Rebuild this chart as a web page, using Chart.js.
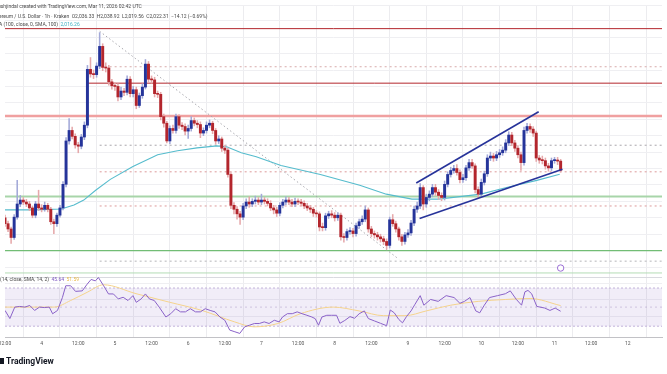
<!DOCTYPE html>
<html><head><meta charset="utf-8">
<script src="https://cdn.jsdelivr.net/npm/chart.js@4.4.1/dist/chart.umd.min.js"></script>
<style>
html,body{margin:0;padding:0;background:#fff;}
#wrap{position:relative;width:667px;height:374px;overflow:hidden;font-family:Roboto,"Liberation Sans",sans-serif;}
canvas{position:absolute;left:0;top:0;}
.t{position:absolute;white-space:nowrap;font-size:5px;color:#4a4a4a;line-height:6px;}
.logo{position:absolute;left:6px;top:356px;font-size:8.5px;font-weight:bold;color:#131722;white-space:nowrap;line-height:10px;}
.ico{position:absolute;left:0px;top:358px;width:4px;height:6px;background:#131722;}
</style></head><body>
<div id="wrap"><canvas id="c" width="667" height="374"></canvas>
<div class="t" style="left:-2px;top:3px">ushjindal created with TradingView.com, Mar 11, 2026 02:42 UTC</div>
<div class="t" style="left:-1px;top:13px">ereum / U.S. Dollar · 1h · Kraken&nbsp; O2,036.33&nbsp; H2,038.92&nbsp; L2,019.56&nbsp; C2,022.31&nbsp; −14.12 (−0.69%)</div>
<div class="t" style="left:-1px;top:21px">A (100, close, 0, SMA, 100)&nbsp; <span style="color:#3fb0c4">2,016.26</span></div>
<div class="t" style="left:0px;top:276px">(14, close, SMA, 14, 2)&nbsp; <span style="color:#7e57c2">45.64</span>&nbsp; <span style="color:#e8b94a">51.59</span></div>
<div class="ico"></div><div class="logo">TradingView</div>
</div>
<script>
// ---- data: hourly ETH/USD candles, hour 0 = Mar 3 12:00 UTC ----
const firstOpen = 1950;
const closes = [
1941,1933,1920,1951,1971,1977,1974,1971,1965,1954,
1971,1965,1963,1969,1963,1944,1941,1954,1965,2001,
2067,2083,2074,2061,2059,2073,2091,2176,2169,2168,
2181,2211,2179,2178,2157,2151,2150,2134,2143,2141,
2161,2139,2145,2121,2136,2149,2184,2161,2160,2139,
2138,2104,2094,2067,2086,2083,2104,2091,2089,2082,
2086,2098,2094,2092,2079,2083,2091,2094,2083,2067,
2070,2056,2053,2016,1969,1963,1956,1951,1968,1974,
1971,1975,1977,1974,1977,1975,1972,1965,1962,1957,
1969,1974,1977,1974,1971,1975,1974,1972,1968,1965,
1963,1957,1956,1936,1935,1953,1956,1954,1950,1954,
1921,1920,1929,1930,1926,1938,1944,1948,1962,1933,
1926,1924,1921,1918,1914,1908,1947,1941,1933,1921,
1914,1924,1927,1942,1963,1968,1996,1971,1981,1986,
1996,1989,1984,1981,2001,2016,2022,2025,2019,2008,
2011,2026,2034,2029,1993,1986,2004,2017,2041,2044,
2041,2046,2049,2053,2064,2076,2064,2056,2046,2034,
2083,2089,2085,2079,2041,2038,2037,2029,2026,2037,
2038,2036.33,2022.31];
const highs = [
1954,1945,1936,1955,2007,1984,1981,1978,1975,1968,
1975,1992,1970,1974,1972,1966,1948,1957,1969,2005,
2072,2101,2088,2078,2065,2077,2096,2182,2194,2175,
2186,2232,2215,2186,2182,2161,2156,2154,2149,2147,
2166,2165,2150,2149,2140,2154,2191,2188,2166,2164,
2143,2141,2108,2097,2090,2091,2108,2107,2095,2093,
2091,2104,2102,2098,2096,2087,2096,2099,2097,2086,
2075,2073,2060,2056,2019,1973,1967,1960,1972,1979,
1982,1979,1983,1981,1986,1981,1979,1976,1969,1966,
1973,1978,1982,1981,1978,1980,1979,1978,1976,1972,
1969,1966,1961,1959,1942,1957,1960,1961,1958,1958,
1957,1926,1933,1935,1934,1942,1948,1953,1968,1965,
1937,1930,1928,1925,1922,1918,1951,1955,1945,1936,
1925,1928,1932,1946,1968,1974,2002,1999,1986,1991,
2001,2001,1993,1988,2006,2020,2027,2030,2031,2023,
2016,2030,2039,2039,2032,1997,2009,2021,2046,2050,
2048,2051,2054,2058,2069,2081,2080,2068,2060,2050,
2088,2094,2093,2089,2082,2045,2044,2041,2033,2041,
2042,2042,2038.92];
const lows = [
1937,1929,1911,1917,1948,1967,1970,1967,1961,1950,
1950,1961,1959,1960,1959,1940,1926,1937,1951,1962,
1997,2062,2070,2056,2049,2055,2069,2087,2164,2162,
2164,2177,2174,2172,2152,2146,2144,2128,2130,2136,
2137,2134,2134,2116,2118,2132,2146,2156,2155,2134,
2133,2099,2088,2064,2063,2079,2079,2086,2084,2076,
2071,2082,2090,2087,2072,2075,2079,2087,2078,2062,
2063,2051,2048,2012,1964,1956,1948,1940,1947,1964,
1966,1967,1971,1970,1970,1971,1968,1961,1956,1952,
1953,1965,1970,1970,1967,1967,1970,1968,1964,1961,
1958,1952,1951,1930,1930,1931,1949,1950,1945,1946,
1916,1913,1916,1925,1921,1922,1934,1940,1944,1928,
1921,1919,1916,1913,1909,1902,1904,1937,1928,1916,
1908,1910,1920,1923,1938,1958,1964,1962,1966,1976,
1982,1984,1978,1976,1977,1997,2012,2018,2015,2003,
2004,2007,2022,2025,1988,1980,1982,2000,2013,2037,
2036,2037,2042,2045,2049,2060,2060,2051,2041,2022,
2030,2079,2080,2074,2036,2033,2032,2024,2021,2022,
2033,2031,2019.56];

// 100-period moving average
const emaHours  = [0, 9.7, 18.4, 22.6, 25.8, 29.7, 34.5, 41.9, 50, 56.5, 62.9, 69.4, 72.6, 77.4, 82.3, 90.4, 103.3, 116.2, 124.9, 133.3, 142, 155.9, 164.6, 174.2, 181.7];
const emaValues = [1962, 1962, 1963.5, 1969.5, 1977, 1992, 2008.5, 2028, 2046, 2052, 2056.5, 2059.5, 2058, 2049, 2043, 2029.5, 2016, 1999.5, 1986, 1978.5, 1978.5, 1986, 1996.5, 2007, 2016.26];

// RSI(14) and its SMA(14)
const rsiHours = [0,1.6,3.2,4.8,6.5,8.1,9.7,11.3,12.9,14.5,15.6,17.2,18.8,19.9,21.5,23.1,25.3,26.9,28.2,29.6,30.6,32.3,33.9,35.5,37.1,38.7,40.3,41.9,43,44.6,46,47.3,48.9,50.5,52.7,54.3,55.9,57.5,59.1,60.7,62.4,64,65.6,67.2,68.8,70.4,72,73.6,75.3,76.9,78.5,80.1,81.7,83.3,84.9,86.5,88.2,89.8,90.9,92.5,94.1,95.7,97.3,98.9,100.5,101.6,102.7,103.8,105.4,107,108.6,109.7,111.3,113,114.5,116,117.7,119,121,123,125,126.2,127.5,129,130.2,131.5,133,134.3,136,137.2,139.4,141.9,144.5,147.1,149,150.5,152.3,154.2,155.5,157,158.7,161.3,163.9,165.5,167.5,169.2,170.3,171.3,172.5,174.2,176.8,178.5,180.2,182];
const rsiValues = [46.5,38,50,50.7,50,51.7,46.5,50,49.5,50,43,46.5,60,72.4,72.4,66.5,67,74,79,77.5,81,72.4,63.8,63.8,58.6,60.3,56.9,62,55,58.6,63.8,58.6,56.9,50,39.6,43.1,48.3,45,45,48.3,45,45,48.3,46.5,45,39.6,36.2,25.9,24.1,22.4,29.3,31,32.8,32.8,34.5,32.8,36.2,34.5,39.6,43.1,43.1,45,43.1,41.4,39.6,37.9,31,39.6,41.4,41.4,41.4,33,36,40,38.3,43,46,38,35.5,33,30.5,47,44,37,33.5,40,46,53,62,52,58,56,62,60,54,56,60,46,44,52,60,62,64,67,58,52,66,67.5,64,50.7,49,46.5,49,45.64];
const rsiMaHours  = [0, 16.1, 21.5, 26.9, 32.3, 42.9, 53.9, 64.5, 75.2, 81.6, 89.4, 96.8, 107.5, 116, 124, 131, 138, 146, 155, 164, 172, 182];
const rsiMaValues = [50, 50, 56.9, 65.5, 73.4, 64.1, 55.1, 46.5, 34.5, 29.3, 32.8, 43.1, 50, 46, 41, 41, 46, 52, 56, 58, 59, 51.59];
const rsiBands = [70, 50, 30];

// drawn levels and trend lines
const levelPrices     = [2238, 2180, 2155, 2105, 2060.5, 2020, 1982.5, 1968, 1900, 1884, 1866];
const levelStartHours = [0, 31, 27, 0, 31, 31, 0, 31, 0, 31, 0];
const trendHours  = [31, 129];   const trendPrices  = [2234, 1887];
const upperHours  = [134.7, 174.8]; const upperPrices = [2003, 2111.5];
const lowerHours  = [135.8, 182.6]; const lowerPrices = [1949, 2024];
const markerHour = 182, markerPrice = 1873.5;

// ---- chart ----
const X_MAX = 215.2;
const levelStyles = [
  {c:'#b3262d', w:1, d:[]}, {c:'#d8aaaa', w:1, d:[2,3]}, {c:'#b3262d', w:1, d:[]},
  {c:'#f0a0a0', w:2.4, d:[]}, {c:'#a9a6ab', w:1, d:[2,3]}, {c:'#dd9a9a', w:1, d:[2,3]},
  {c:'#a8d5a9', w:2, d:[]}, {c:'#dd9a9a', w:1, d:[2,3]}, {c:'#72bd75', w:1.2, d:[]},
  {c:'#b4b4b8', w:1, d:[2,3]}, {c:'#b4dcb5', w:1, d:[]}
];
const opens = closes.map((c, i) => i === 0 ? firstOpen : closes[i - 1]);
const isUp = closes.map((c, i) => c >= opens[i]);
const pts = (xs, ys) => xs.map((x, i) => ({x, y: ys[i]}));
const lineDs = (data, color, width, dash, order, axis) => ({
  type:'line', data, borderColor:color, borderWidth:width, borderDash:dash, pointRadius:0,
  fill:false, tension:0, order, yAxisID: axis || 'y'
});

const datasets = [];
levelPrices.forEach((p, i) => {
  const s = levelStyles[i];
  datasets.push(lineDs([{x:levelStartHours[i], y:p}, {x:X_MAX, y:p}], s.c, s.w, s.d, 20));
});
datasets.push(lineDs(pts(trendHours, trendPrices), '#a8a8ae', 1, [1.5,2.5], 19));
datasets.push(lineDs(pts(emaHours, emaValues), '#56bccd', 1.1, [], 15));
datasets.push({type:'bar', data: closes.map((c,i)=>({x:i, y:[lows[i], highs[i]]})),
  backgroundColor: isUp.map(u => u ? '#a3a9d8' : '#e6a9ab'), barThickness:0.9, grouped:false,
  borderWidth:0, order:12, yAxisID:'y'});
datasets.push({type:'bar', data: closes.map((c,i)=>({x:i, y:[opens[i], c]})),
  backgroundColor: isUp.map(u => u ? '#25349a' : '#b3262d'), barThickness:2.3, grouped:false,
  minBarLength:1, borderWidth:0, order:11, yAxisID:'y'});
datasets.push(lineDs(pts(upperHours, upperPrices), '#27339a', 1.6, [], 3));
datasets.push(lineDs(pts(lowerHours, lowerPrices), '#27339a', 1.6, [], 3));
datasets.push({type:'line', data:[{x:markerHour, y:markerPrice}], showLine:false, pointRadius:3.2,
  pointBackgroundColor:'#fff', pointBorderColor:'#9b6fd6', pointBorderWidth:1, order:2, yAxisID:'y'});
// RSI pane
datasets.push(lineDs([{x:0,y:rsiBands[0]},{x:X_MAX,y:rsiBands[0]}], '#c2b3da', 1, [2,2], 30, 'yr'));
datasets.push(Object.assign(lineDs([{x:0,y:rsiBands[2]},{x:X_MAX,y:rsiBands[2]}], '#c2b3da', 1, [2,2], 30, 'yr'),
  {fill:'-1', backgroundColor:'rgba(126,87,194,0.11)'}));
datasets.push(lineDs([{x:0,y:rsiBands[1]},{x:X_MAX,y:rsiBands[1]}], 'rgba(160,140,190,0.45)', 1, [2,3], 29, 'yr'));
datasets.push(Object.assign(lineDs(pts(rsiMaHours, rsiMaValues), '#f5d38c', 1, [], 6, 'yr'),
  {cubicInterpolationMode:'monotone'}));
datasets.push(lineDs(pts(rsiHours, rsiValues), '#8a62c8', 1, [], 5, 'yr'));

const paneSep = {
  id:'paneSep',
  beforeDatasetsDraw(chart){
    const {ctx, chartArea, scales} = chart;
    const y = Math.round(scales.yr.getPixelForValue(82)) + 0.5;
    ctx.save(); ctx.strokeStyle = '#d9dadf'; ctx.lineWidth = 1;
    ctx.beginPath(); ctx.moveTo(chartArea.left, y); ctx.lineTo(chartArea.right, y); ctx.stroke();
    ctx.restore();
  }
};

new Chart(document.getElementById('c'), {
  type:'bar',
  data:{datasets},
  plugins:[paneSep],
  options:{
    responsive:false, animation:false, events:[],
    layout:{padding:{left:0, right:0, top:0, bottom:23}},
    plugins:{legend:{display:false}, tooltip:{enabled:false}},
    scales:{
      x:{type:'linear', min:0, max:X_MAX, offset:false,
        grid:{color:'#ececef', drawTicks:false, lineWidth:1},
        border:{display:true, color:'#c2c2c6'},
        ticks:{stepSize:12, autoSkip:false, maxRotation:0, padding:4, color:'#555',
          font:{size:5, family:'Roboto, "Liberation Sans", sans-serif'},
          callback(v){
            const r = Math.round(v);
            if (Math.abs(v - r) > 1e-6 || r % 12) return null;
            return r % 24 === 0 ? '12:00' : String(4 + (r - 12) / 24);
          }},
        afterFit(s){ s.height = 14; s.paddingLeft = 0; s.paddingRight = 0; }
      },
      y:{type:'linear', position:'right', min:1768.5, max:2274,
        grid:{color:'#efeff2', drawTicks:false}, border:{display:false},
        ticks:{display:false, stepSize:25},
        afterFit(s){ s.width = 0; }
      },
      yr:{type:'linear', position:'right', min:18.64, max:366.8, display:false}
    }
  }
});
</script>
</body></html>
